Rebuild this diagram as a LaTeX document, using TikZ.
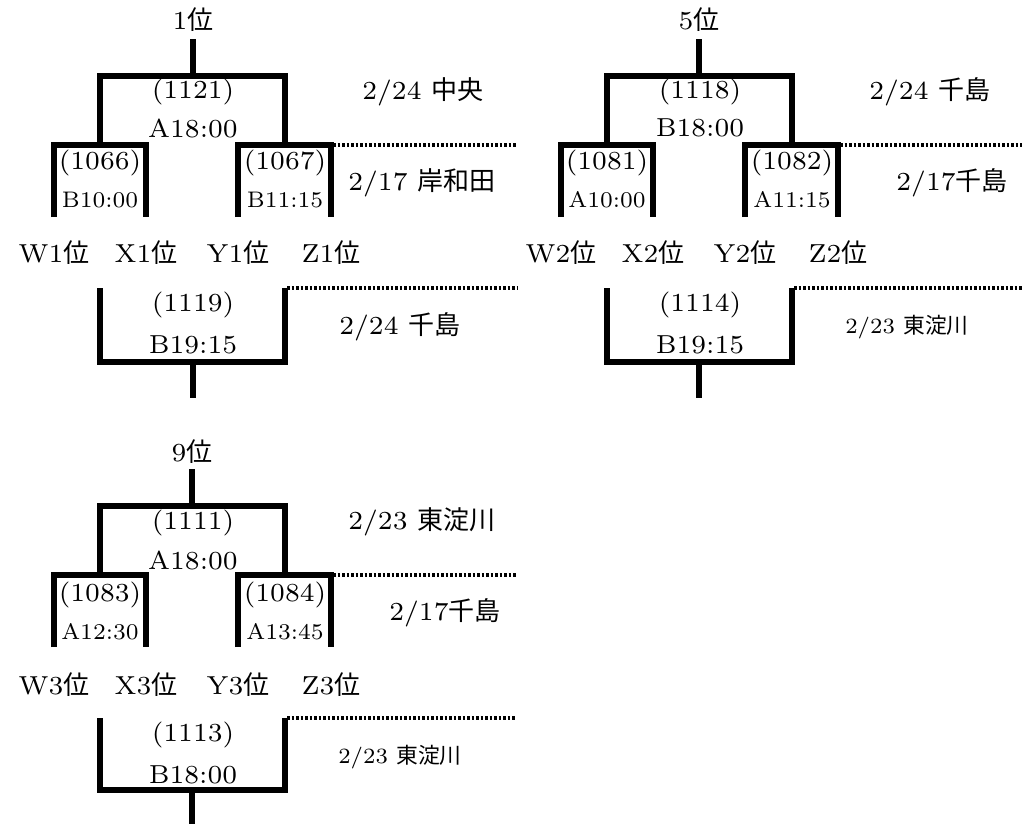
\documentclass[tikz,border=0pt]{standalone}
\usepackage{fontspec}
\setmainfont{lmroman7-regular}[Extension=.otf]
\newfontfamily\jp{Noto Sans CJK JP}
\tikzset{
  bracket/.style={line width=4.3pt},
  dotline/.style={line width=2.4pt, dash pattern=on 2pt off 1.2pt},
  lbl/.style={font=\fontsize{18.5}{24}\selectfont, inner sep=0pt},
  tm/.style={font=\fontsize{16}{20}\selectfont, inner sep=0pt},
  svenue/.style={font=\fontsize{15.5}{20}\selectfont, inner sep=0pt},
}
\begin{document}
\begin{tikzpicture}[x=0.025cm, y=-0.025cm]
  \useasboundingbox (0,0) rectangle (1036,823);

  % Block 1
  \begin{scope}
    \node[lbl] (s1) at (193,20) {1{\jp 位}};
    \draw[bracket] (193,39) -- (193,76);
    % semifinal
    \draw[bracket] (100,145) -- (100,76) -- (285,76) -- (285,145);
    \node[lbl] (m1121) at (193,92) {(1121)};
    \node[lbl] (t1121) at (193,128) {A18:00};
    \node[lbl] (v1a) at (423,92) {2/24 {\jp 中央}};
    % first round
    \draw[bracket] (54,217) -- (54,145) -- (146,145) -- (146,217);
    \draw[bracket] (238,217) -- (238,145) -- (331,145) -- (331,217);
    \draw[dotline] (333,145) -- (517,145);
    \node[lbl] (m1066) at (100,163) {(1066)};
    \node[tm] (t1066) at (100,200) {B10:00};
    \node[lbl] (m1067) at (285,163) {(1067)};
    \node[tm] (t1067) at (285,200) {B11:15};
    \node[lbl] (v1b) at (422,183) {2/17 {\jp 岸和田}};
    % entrants
    \node[lbl] (w1) at (54,253) {W1{\jp 位}};
    \node[lbl] (x1) at (146,253) {X1{\jp 位}};
    \node[lbl] (y1) at (238,253) {Y1{\jp 位}};
    \node[lbl] (z1) at (331,253) {Z1{\jp 位}};
    % losers
    \draw[bracket] (100,288) -- (100,362) -- (285,362) -- (285,288);
    \draw[bracket] (193,362) -- (193,398);
    \draw[dotline] (287,288) -- (517,288);
    \node[lbl] (m1119) at (193,305) {(1119)};
    \node[lbl] (t1119) at (193,345) {B19:15};
    \node[lbl] (v1c) at (400,327) {2/24 {\jp 千島}};
  \end{scope}

  % Block 2
  \begin{scope}[shift={(507,0)}]
    \node[lbl] (s2) at (192,20) {5{\jp 位}};
    \draw[bracket] (192,39) -- (192,76);
    % semifinal
    \draw[bracket] (100,145) -- (100,76) -- (285,76) -- (285,145);
    \node[lbl] (m1118) at (193,92) {(1118)};
    \node[lbl] (t1118) at (193,128) {B18:00};
    \node[lbl] (v2a) at (423,92) {2/24 {\jp 千島}};
    % first round
    \draw[bracket] (54,217) -- (54,145) -- (146,145) -- (146,217);
    \draw[bracket] (238,217) -- (238,145) -- (331,145) -- (331,217);
    \draw[dotline] (333,145) -- (515,145);
    \node[lbl] (m1081) at (100,163) {(1081)};
    \node[tm] (t1081) at (100,200) {A10:00};
    \node[lbl] (m1082) at (285,163) {(1082)};
    \node[tm] (t1082) at (285,200) {A11:15};
    \node[lbl] (v2b) at (445,183) {2/17{\jp 千島}};
    % entrants
    \node[lbl] (w2) at (54,253) {W2{\jp 位}};
    \node[lbl] (x2) at (146,253) {X2{\jp 位}};
    \node[lbl] (y2) at (238,253) {Y2{\jp 位}};
    \node[lbl] (z2) at (331,253) {Z2{\jp 位}};
    % losers
    \draw[bracket] (100,288) -- (100,362) -- (285,362) -- (285,288);
    \draw[bracket] (192,362) -- (192,398);
    \draw[dotline] (287,288) -- (515,288);
    \node[lbl] (m1114) at (193,305) {(1114)};
    \node[lbl] (t1114) at (193,345) {B19:15};
    \node[svenue] (v2c) at (400,327) {2/23 {\jp 東淀川}};
  \end{scope}

  % Block 3
  \begin{scope}[shift={(0,430)}]
    \node[lbl] (s3) at (192,22) {9{\jp 位}};
    \draw[bracket] (192,39) -- (192,76);
    % semifinal
    \draw[bracket] (100,145) -- (100,76) -- (285,76) -- (285,145);
    \node[lbl] (m1111) at (193,93) {(1111)};
    \node[lbl] (t1111) at (193,130) {A18:00};
    \node[lbl] (v3a) at (422,92) {2/23 {\jp 東淀川}};
    % first round
    \draw[bracket] (54,217) -- (54,145) -- (146,145) -- (146,217);
    \draw[bracket] (238,217) -- (238,145) -- (331,145) -- (331,217);
    \draw[dotline] (333,145) -- (517,145);
    \node[lbl] (m1083) at (100,165) {(1083)};
    \node[tm] (t1083) at (100,202) {A12:30};
    \node[lbl] (m1084) at (285,165) {(1084)};
    \node[tm] (t1084) at (285,202) {A13:45};
    \node[lbl] (v3b) at (445,183) {2/17{\jp 千島}};
    % entrants
    \node[lbl] (w3) at (54,255) {W3{\jp 位}};
    \node[lbl] (x3) at (146,255) {X3{\jp 位}};
    \node[lbl] (y3) at (238,255) {Y3{\jp 位}};
    \node[lbl] (z3) at (331,255) {Z3{\jp 位}};
    % losers
    \draw[bracket] (100,288) -- (100,360) -- (285,360) -- (285,288);
    \draw[bracket] (192,360) -- (192,400);
    \draw[dotline] (287,288) -- (515,288);
    \node[lbl] (m1113) at (193,305) {(1113)};
    \node[lbl] (t1113) at (193,345) {B18:00};
    \node[svenue] (v3c) at (400,327) {2/23 {\jp 東淀川}};
  \end{scope}
\end{tikzpicture}
\end{document}
